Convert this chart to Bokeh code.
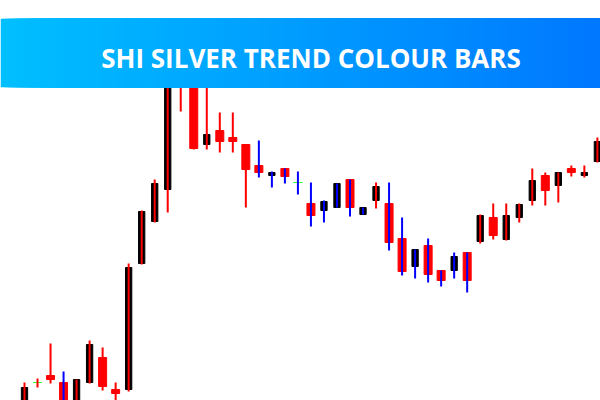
from bokeh.plotting import figure
from bokeh.models import Range1d, ColumnDataSource, GlobalInlineStyleSheet
from bokeh.core.properties import value
from bokeh.embed import file_html
from bokeh.resources import INLINE

TITLE = "SHI SILVER TREND COLOUR BARS"

# candle index (bar number)
bars = list(range(45))
opens = [19.96, 20.18, 20.25, 20.18, 19.94, 20.18, 20.43, 20.11, 20.11, 21.37, 21.79, 22.11, 23.55, 23.25, 22.56,
         22.70, 22.63, 22.56, 22.35, 22.25, 22.32, 22.18, 21.97, 21.90, 21.93, 22.21, 21.86, 22.00, 21.97, 21.62,
         21.34, 21.55, 21.30, 21.30, 21.48, 21.59, 21.83, 21.61, 21.83, 22.00, 22.25, 22.15, 22.32, 22.25, 22.39]
closes = [20.13, 20.18, 20.21, 19.92, 20.21, 20.56, 20.14, 20.07, 21.33, 21.89, 22.17, 23.30, 23.22, 22.52, 22.66,
          22.59, 22.59, 22.31, 22.28, 22.28, 22.24, 22.18, 21.85, 21.99, 22.17, 21.93, 21.93, 22.14, 21.58, 21.29,
          21.51, 21.26, 21.20, 21.44, 21.20, 21.85, 21.65, 21.85, 21.96, 22.20, 22.10, 22.28, 22.28, 22.28, 22.59]
highs = [20.18, 20.22, 20.57, 20.29, 20.21, 20.60, 20.53, 20.18, 21.37, 21.90, 22.21, 23.40, 23.70, 23.35, 23.30,
         22.88, 22.88, 22.56, 22.60, 22.29, 22.32, 22.29, 22.18, 22.00, 22.17, 22.21, 21.93, 22.18, 22.18, 21.83,
         21.51, 21.62, 21.30, 21.48, 21.48, 21.86, 21.97, 21.97, 21.97, 22.32, 22.28, 22.28, 22.35, 22.35, 22.63]
lows = [19.92, 20.13, 20.17, 19.88, 19.90, 20.17, 20.10, 19.98, 20.09, 21.36, 21.78, 21.88, 22.89, 22.51, 22.51,
        22.48, 22.48, 21.93, 22.23, 22.13, 22.17, 22.06, 21.74, 21.78, 21.93, 21.84, 21.86, 21.92, 21.50, 21.25,
        21.22, 21.18, 21.14, 21.22, 21.08, 21.57, 21.61, 21.60, 21.78, 21.95, 21.95, 21.98, 22.24, 22.23, 22.38]
# trend state that colours the wick: "up" -> red, "down" -> blue
trend = ["up", "up", "up", "down", "up", "up", "up", "up", "up", "up", "up", "up", "up", "up", "up",
         "up", "up", "up", "down", "down", "down", "down", "down", "down", "down", "down", "down", "up", "down", "down",
         "down", "down", "down", "down", "down", "up", "up", "up", "up", "up", "up", "up", "up", "up", "up"]

W, H = 600, 400
PX = 13.02          # pixels per bar
X0 = 24.0           # pixel of first bar
Y_LO, Y_HI = 20.0, 24.0

def xd(px):
    return (px - X0) / PX

def yd(py):
    return Y_LO + (H - py) * (Y_HI - Y_LO) / H

p = figure(width=W, height=H, output_backend="svg", toolbar_location=None,
           x_range=Range1d(xd(0), xd(W)), y_range=Range1d(Y_LO, Y_HI),
           min_border=0, min_border_left=0, min_border_right=0, min_border_top=0, min_border_bottom=0)
p.xaxis.visible = False
p.yaxis.visible = False
p.grid.visible = False
p.outline_line_color = None
p.background_fill_color = "white"
p.border_fill_color = "white"
p.stylesheets = [GlobalInlineStyleSheet(css="html, body { margin: 0 !important; padding: 0; overflow: hidden; }")]

body_col, body_w, tops, bots, wick_col = [], [], [], [], []
for o, c, t in zip(opens, closes, trend):
    if c > o:
        body_col.append("#000000"); body_w.append(6.3 / PX)
    elif c < o:
        body_col.append("#ff0000"); body_w.append(8.0 / PX)
    else:
        body_col.append("#33ff33"); body_w.append(9.0 / PX)
    tops.append(max(o, c)); bots.append(min(o, c))
    wick_col.append("#ff0000" if t == "up" else "#0000ff")

src = ColumnDataSource(dict(x=bars, top=tops, bottom=bots, high=highs, low=lows,
                            bc=body_col, bw=body_w, wc=wick_col))
p.vbar(x="x", width="bw", top="top", bottom="bottom", fill_color="bc", line_color="bc",
       line_width=1, source=src)
p.segment(x0="x", y0="high", x1="x", y1="low", line_color="wc", line_width=2, source=src)

# gradient banner: overlapping slices (each runs to the right edge) so no seams show
N = 150
c0 = (0, 191, 255)
c1 = (0, 120, 255)
lefts, rights, cols = [], [], []
for i in range(N):
    f = i / (N - 1)
    col = "#%02x%02x%02x" % tuple(int(round(a + (b - a) * f)) for a, b in zip(c0, c1))
    lefts.append(xd(W * i / N)); rights.append(xd(W) + 1); cols.append(col)
p.quad(left=lefts, right=rights, top=yd(18.3), bottom=yd(86.7), fill_color=cols, line_color=None)
p.text(x=[xd(310.5)], y=[yd(57.5)], text=[TITLE], text_color="white", text_font=value("Open Sans"),
       text_font_style="bold", text_font_size="26px", text_align="center", text_baseline="middle")

open("out.html", "w").write(file_html(p, INLINE))
